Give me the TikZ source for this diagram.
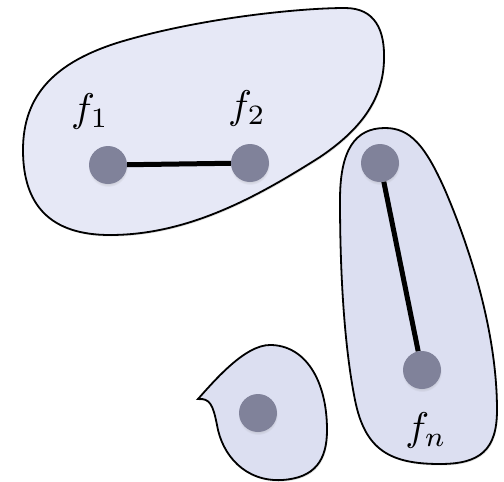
\documentclass[tikz,border=0pt]{standalone}
\usetikzlibrary{shadows}
\definecolor{blobA}{HTML}{E6E8F6}
\definecolor{blobB}{HTML}{DCDFF1}
\definecolor{dotc}{HTML}{80829A}
\tikzset{
  blob/.style={draw=black, line width=1.8pt,
     drop shadow={shadow xshift=1pt, shadow yshift=-1.5pt, opacity=0.25}},
  dot/.style={circle, fill=dotc, minimum width=38pt, minimum height=36pt, inner sep=0pt,
     circular drop shadow={shadow xshift=0pt, shadow yshift=-2pt, opacity=0.2, shadow scale=1.05}},
  edge/.style={line width=5pt, black},
  lab/.style={scale=4}
}
\begin{document}
\begin{tikzpicture}[x=1pt, y=-1pt]
\useasboundingbox (0,0) rectangle (504,482);
% top-left blob
\path[blob, fill=blobA] (23,150) .. controls (23,95) and (55,62) .. (120,42)
  .. controls (200,18) and (300,8) .. (345,8)
  .. controls (375,8) and (385,30) .. (384,60)
  .. controls (383,100) and (360,130) .. (320,157)
  .. controls (260,195) and (190,235) .. (110,235)
  .. controls (50,235) and (23,205) .. (23,150) -- cycle;
% right blob
\path[blob, fill=blobB] (385,128) .. controls (410,128) and (425,145) .. (445,190)
  .. controls (475,260) and (497,340) .. (497,410)
  .. controls (497,450) and (480,464) .. (440,464)
  .. controls (390,464) and (365,450) .. (355,400)
  .. controls (345,350) and (340,280) .. (340,200)
  .. controls (340,150) and (355,128) .. (385,128) -- cycle;
% small blob
\path[blob, fill=blobB] (198,399) .. controls (215,380) and (245,345) .. (270,345)
  .. controls (305,345) and (327,380) .. (327,430)
  .. controls (327,460) and (315,478) .. (282,480)
  .. controls (245,482) and (222,455) .. (217,425)
  .. controls (213,405) and (210,398) .. (198,399) -- cycle;
% nodes
\node[dot] (n1) at (108,165) {};
\node[dot] (n2) at (250,163) {};
\node[dot] (n3) at (380,163) {};
\node[dot] (n4) at (422,370) {};
\node[dot] (n5) at (258,413) {};
\draw[edge] (n1) -- (n2);
\draw[edge] (n3) -- (n4);
\node[lab] (l1) at (90,111) {$f_1$};
\node[lab] (l2) at (247,108) {$f_2$};
\node[lab] (l3) at (426,430) {$f_n$};
\end{tikzpicture}
\end{document}
